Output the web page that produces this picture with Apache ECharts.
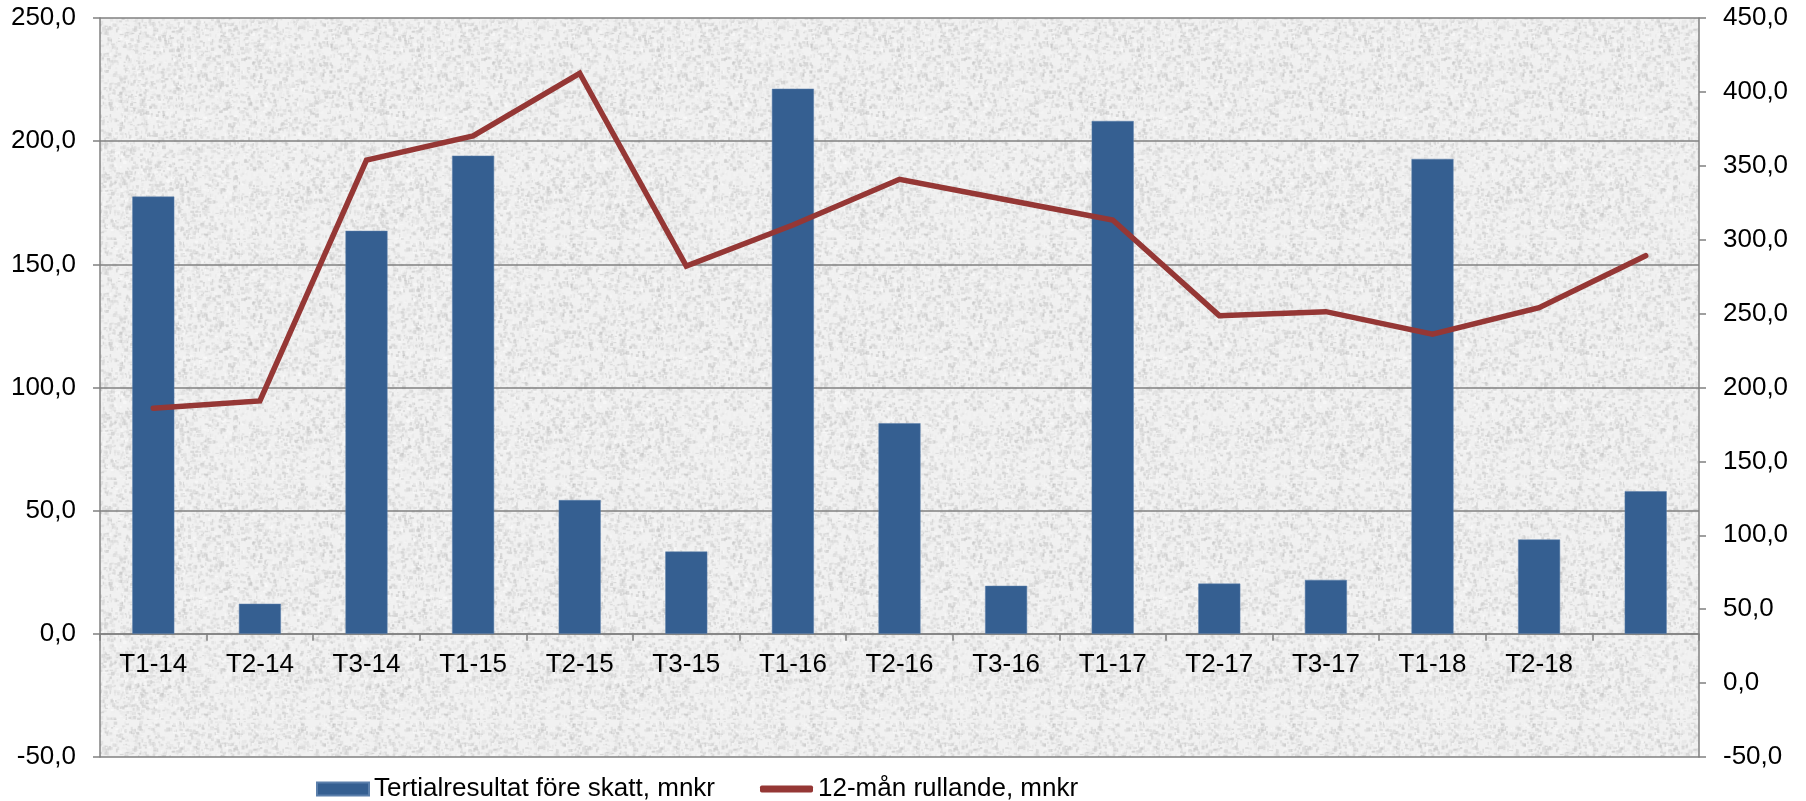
<!DOCTYPE html>
<html>
<head>
<meta charset="utf-8">
<script src="https://cdn.jsdelivr.net/npm/echarts/dist/echarts.min.js"></script>
<style>
  html, body { margin: 0; padding: 0; background: #fff; }
  #chart { width: 1806px; height: 801px; }
</style>
</head>
<body>
<div id="chart"></div>
<script>
// kategorier (tertial)
var categories = ['T1-14', 'T2-14', 'T3-14', 'T1-15', 'T2-15', 'T3-15', 'T1-16', 'T2-16', 'T3-16',
  'T1-17', 'T2-17', 'T3-17', 'T1-18', 'T2-18', ''];
// staplar, vänster axel
var tertialresultat = [177.5, 12.2, 163.6, 194.1, 54.3, 33.4, 221.3, 85.5, 19.5, 208.2, 20.4, 21.9, 192.8, 38.3, 57.9];
// linje, höger axel
var rullande = [185.9, 190.9, 353.9, 370.2, 412.6, 282.2, 309.9, 340.9, 327.0, 313.3, 248.6, 251.3, 236.0, 254.0, 289.2];

var leftAxis = { min: -50, max: 250, step: 50 };
var rightAxis = { min: -50, max: 450, step: 50 };

var barName = 'Tertialresultat före skatt, mnkr';
var lineName = '12-mån rullande, mnkr';

var font = '"Liberation Sans", Arial, sans-serif';

// granit-liknande bakgrund i ritytan
function makeTexture () {
  var c = document.createElement('canvas');
  c.width = 240;
  c.height = 240;
  var g = c.getContext('2d');
  g.fillStyle = '#f1f1f1';
  g.fillRect(0, 0, 240, 240);
  var s = 4711;
  function rnd () {
    s = (s * 16807) % 2147483647;
    return s / 2147483647;
  }
  for (var i = 0; i < 7000; i++) {
    var x = rnd() * 240;
    var y = rnd() * 240;
    var v = Math.round(190 + rnd() * 65);
    g.fillStyle = 'rgba(' + v + ',' + v + ',' + v + ',0.5)';
    g.fillRect(x, y, 1 + rnd() * 3, 1 + rnd() * 3);
  }
  return c;
}

function fmt (v) {
  return v.toFixed(1).replace('.', ',');
}

var axisGray = '#808080';
var gridTop = 18;
var gridBottom = 44;
var chartH = 801;
// x-axeln ligger vid 0 på vänster axel
var plotH = chartH - gridTop - gridBottom;
var zeroOffset = -plotH * (0 - leftAxis.min) / (leftAxis.max - leftAxis.min);

var mychart = echarts.init(document.getElementById('chart'));
mychart.setOption({
  animation: false,
  textStyle: { fontFamily: font },
  grid: {
    left: 100,
    right: 107,
    top: gridTop,
    bottom: gridBottom,
    show: true,
    borderWidth: 0,
    backgroundColor: { image: makeTexture(), repeat: 'repeat' }
  },
  legend: [
    {
      data: [barName],
      left: 311,
      top: 771,
      itemWidth: 52,
      itemHeight: 13,
      icon: 'rect',
      textStyle: { fontSize: 26, color: '#000', fontFamily: font }
    },
    {
      data: [lineName],
      left: 755,
      top: 771,
      itemWidth: 53,
      itemHeight: 7,
      icon: 'roundRect',
      textStyle: { fontSize: 26, color: '#000', fontFamily: font }
    }
  ],
  xAxis: {
    type: 'category',
    data: categories,
    position: 'bottom',
    offset: zeroOffset,
    axisLine: { onZero: false, lineStyle: { color: axisGray, width: 1.5 } },
    axisTick: { show: true, length: 7, lineStyle: { color: axisGray, width: 1.5 } },
    axisLabel: { fontSize: 26, color: '#000', margin: 18, interval: 0, fontFamily: font },
    splitLine: { show: false }
  },
  yAxis: [
    {
      type: 'value',
      min: leftAxis.min,
      max: leftAxis.max,
      interval: leftAxis.step,
      axisLine: { show: true, lineStyle: { color: axisGray, width: 1.5 } },
      axisTick: { show: true, length: 7, lineStyle: { color: axisGray, width: 1.5 } },
      axisLabel: { fontSize: 26, color: '#000', margin: 24, formatter: fmt, fontFamily: font },
      splitLine: { show: true, lineStyle: { color: axisGray, width: 1.5 } }
    },
    {
      type: 'value',
      min: rightAxis.min,
      max: rightAxis.max,
      interval: rightAxis.step,
      position: 'right',
      axisLine: { show: true, lineStyle: { color: axisGray, width: 1.5 } },
      axisTick: { show: true, length: 7, lineStyle: { color: axisGray, width: 1.5 } },
      axisLabel: { fontSize: 26, color: '#000', margin: 24, formatter: fmt, fontFamily: font },
      splitLine: { show: false }
    }
  ],
  series: [
    {
      name: barName,
      type: 'bar',
      yAxisIndex: 0,
      data: tertialresultat,
      barWidth: 42,
      itemStyle: { color: '#355f91', borderColor: '#5b7fab', borderWidth: 0.5 }
    },
    {
      name: lineName,
      type: 'line',
      yAxisIndex: 1,
      data: rullande,
      symbol: 'none',
      showSymbol: false,
      itemStyle: { color: '#953735' },
      lineStyle: { color: '#953735', width: 5.5, cap: 'round', join: 'miter' }
    }
  ]
})
</script>
</body>
</html>
